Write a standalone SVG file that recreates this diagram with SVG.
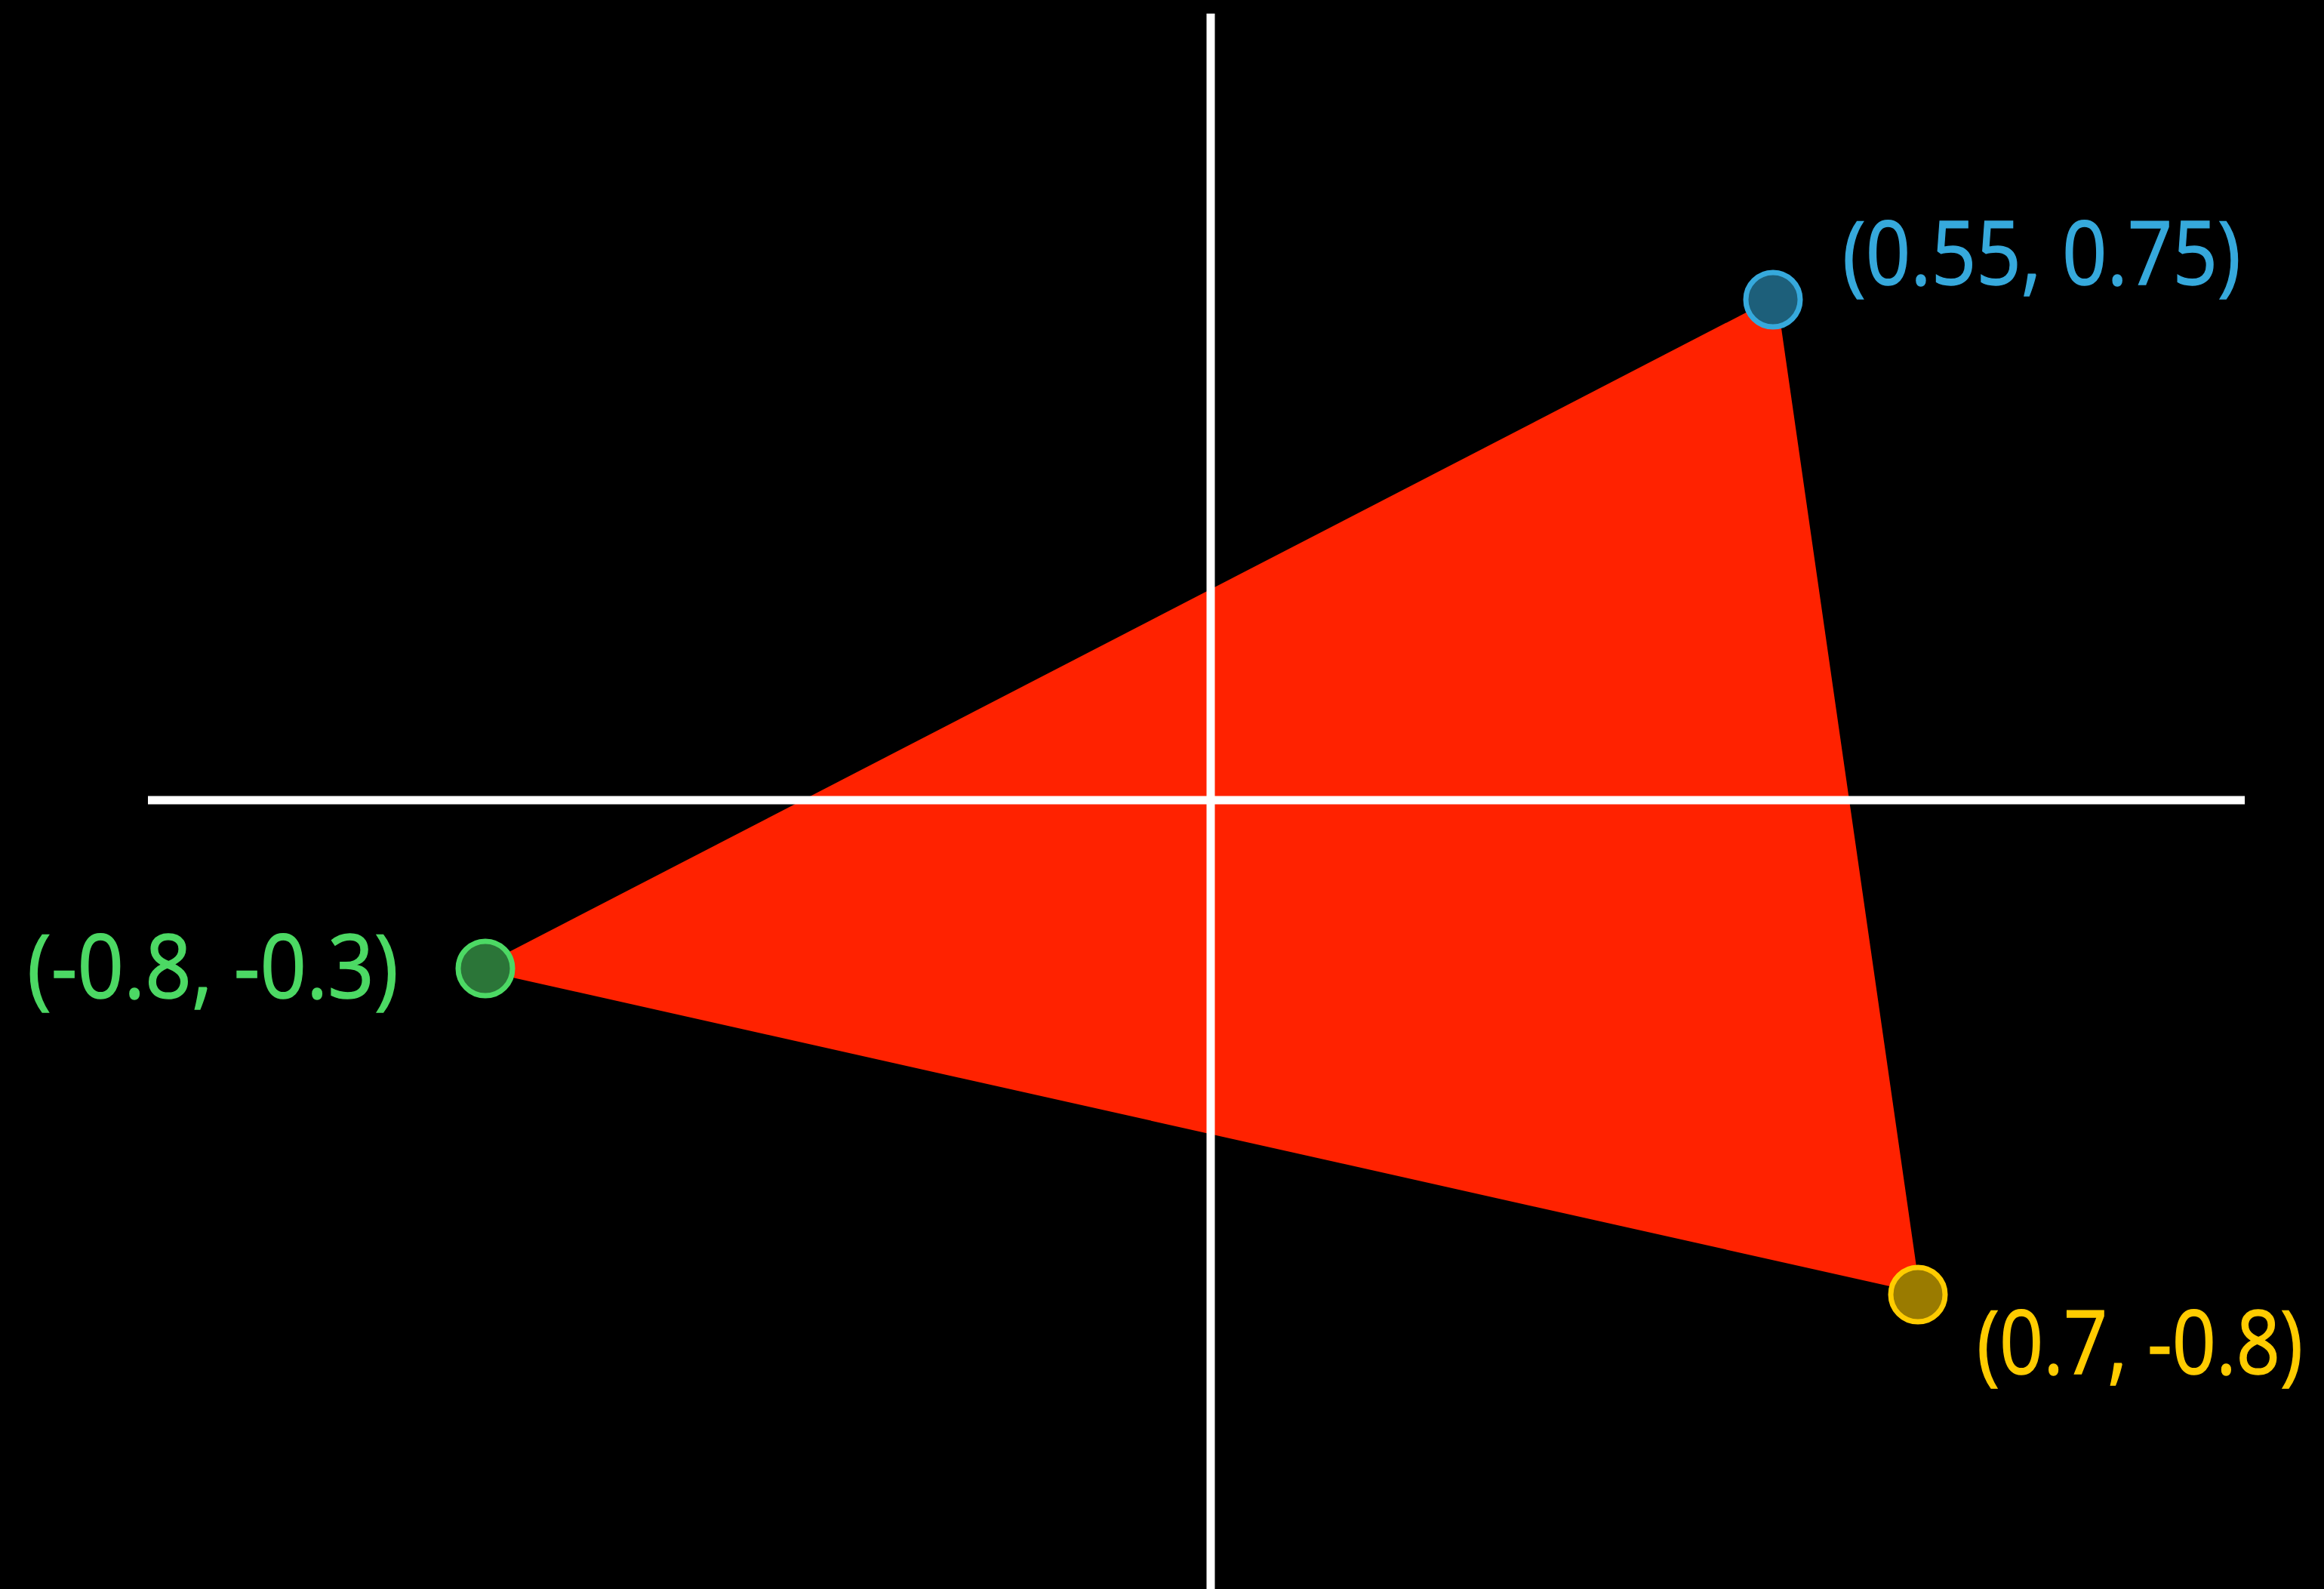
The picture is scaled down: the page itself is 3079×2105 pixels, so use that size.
<svg xmlns="http://www.w3.org/2000/svg" width="3079" height="2105" viewBox="0 0 3079 2105">
<style>
.axis{stroke:#ffffff;stroke-width:11;fill:none}
.lbl{font-family:"Open Sans","Noto Sans","DejaVu Sans",sans-serif;font-size:118px;stroke-width:1.5}
.pt{stroke-width:7}
</style>
<rect x="0" y="0" width="3079" height="2105" fill="#000000"/>
<g id="triangle">
<polygon points="2354,393 630,1284 2544,1713" fill="#ff2200"/>
</g>
<g id="axes">
<line class="axis" x1="1604" y1="18" x2="1604" y2="2105"/>
<line class="axis" x1="196" y1="1060" x2="2974" y2="1060"/>
</g>
<g id="point-blue">
<circle class="pt" cx="2349" cy="397" r="36" fill="#1d5f7a" stroke="#36a9dc"/>
<text class="lbl" transform="translate(2441,377) scale(0.884,1)" x="0" y="0" fill="#36a9dc" stroke="#36a9dc" textLength="597" lengthAdjust="spacingAndGlyphs">(0.55, 0.75)</text>
</g>
<g id="point-green">
<circle class="pt" cx="643" cy="1283" r="36" fill="#2b7538" stroke="#4cd964"/>
<text class="lbl" transform="translate(36,1322) scale(0.914,1)" x="0" y="0" fill="#4cd964" stroke="#4cd964" textLength="538" lengthAdjust="spacingAndGlyphs">(-0.8, -0.3)</text>
</g>
<g id="point-yellow">
<circle class="pt" cx="2541" cy="1715" r="36" fill="#9a7b00" stroke="#ffcc00"/>
<text class="lbl" transform="translate(2619,1820) scale(0.864,1)" x="0" y="0" fill="#ffcc00" stroke="#ffcc00" textLength="500" lengthAdjust="spacingAndGlyphs">(0.7, -0.8)</text>
</g>
</svg>
